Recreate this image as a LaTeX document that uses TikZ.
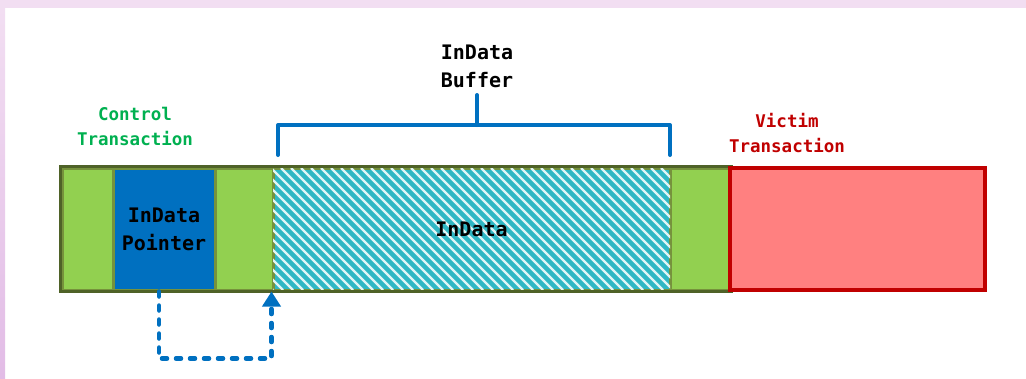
\documentclass[tikz,border=0pt]{standalone}
\usepackage{fontspec}
\setmonofont{DejaVu Sans Mono}
\usepackage{tikz}
\usetikzlibrary{arrows.meta, positioning, calc}

\definecolor{segGreen}{HTML}{92D050}
\definecolor{segEdge}{HTML}{4F6228}
\definecolor{ptrEdge}{HTML}{76923C}
\definecolor{ptrBlue}{HTML}{0070C0}
\definecolor{hatchCyan}{HTML}{2FB7C4}
\definecolor{vicFill}{HTML}{FF8080}
\definecolor{vicEdge}{HTML}{C00000}
\definecolor{ctrlGreen}{HTML}{00B050}
\definecolor{frameLight}{HTML}{F2DEF2}
\definecolor{frameDeep}{HTML}{E2BCE6}

\begin{document}
\begin{tikzpicture}[x=1pt, y=-1pt,
  seg/.style={rectangle, draw=ptrEdge, line width=3pt, fill=segGreen, minimum height=122pt, inner sep=0pt},
  victim/.style={rectangle, draw=vicEdge, line width=3.5pt, fill=vicFill, minimum height=122pt, inner sep=0pt},
  body/.style={font=\ttfamily\bfseries\fontsize{20}{28}\selectfont, align=center, inner sep=0pt},
  tag/.style={font=\ttfamily\bfseries\fontsize{17.5}{25}\selectfont, align=center, inner sep=0pt},
  hatch/.style={white!85!hatchCyan, line width=2.2pt},
  brace/.style={ptrBlue, line width=4pt, line cap=round, line join=round},
  jump/.style={ptrBlue, line width=4.5pt, dash pattern=on 5pt off 9pt, line cap=round, -{Triangle[length=15pt, width=18pt]}}
]
\fill[frameLight] (0,0) rectangle (1026,8);
\shade[top color=frameLight, bottom color=frameDeep] (0,8) rectangle (5,378);
\useasboundingbox (0,0) rectangle (1026,378);

% memory strip
\node[seg, minimum width=51pt] (pad1) at (87.5,229) {};
\node[seg, fill=ptrBlue, minimum width=102pt] (ptr) at (164,229) {};
\node[seg, minimum width=58pt] (pad2) at (244,229) {};
\node[seg, fill=hatchCyan, minimum width=397pt] (buf) at (471.5,229) {};
\node[seg, minimum width=60pt] (pad3) at (700,229) {};

\begin{scope}
  \clip ($(buf.south west)+(1.5,-1.5)$) rectangle ($(buf.north east)+(-1.5,1.5)$);
  \foreach \i in {0,...,55}
    \draw[hatch] (151+\i*10,168) -- ++(122,122);
\end{scope}
\draw[segEdge, line width=3pt] (pad1.north west) rectangle (pad3.south east);
\node[victim, minimum width=255pt] (vic) at (857.5,229) {};

\node[body] (ptrText) at (ptr) {InData\\Pointer};
\node[body] (bufText) at (buf) {InData};

% buffer bracket
\coordinate (brL) at (278,155);
\coordinate (brR) at (670,155);
\coordinate (stem) at (477,125);
\draw[brace] (brL) -- ++(0,-30) -| (brR);
\draw[brace] (stem) -- ++(0,-30);
\node[body] (bufLbl) at (477,66) {InData\\Buffer};

\node[tag, text=ctrlGreen] (ctrlLbl) at (135,126) {Control\\Transaction};
\node[tag, text=vicEdge] (vicLbl) at (787,133) {Victim\\Transaction};

% pointer into the buffer
\draw[jump] ([xshift=-5pt]ptr.south) -- ++(0,67) -| (buf.south west);
\end{tikzpicture}
\end{document}
